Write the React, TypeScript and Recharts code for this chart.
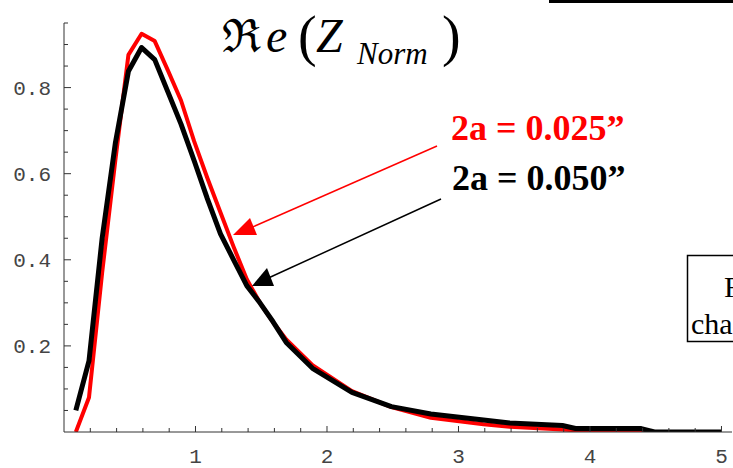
import { LineChart, Line, XAxis, YAxis } from 'recharts';

// sample positions (x) and Re(Z_norm)
const xs = [0.09, 0.19, 0.29, 0.39, 0.49, 0.59, 0.69, 0.79, 0.89, 0.99, 1.09, 1.19, 1.29, 1.39, 1.49, 1.59, 1.69, 1.89, 2.19, 2.49, 2.79, 3.19, 3.39, 3.79, 3.89, 4.19, 4.39, 4.49, 5.0];
const red025 = [0, 0.08, 0.37, 0.63, 0.876, 0.925, 0.908, 0.84, 0.77, 0.675, 0.59, 0.51, 0.43, 0.355, 0.3, 0.255, 0.215, 0.155, 0.095, 0.058, 0.033, 0.018, 0.012, 0.006, 0.004, 0, 0, 0, 0];
const black050 = [0.05, 0.165, 0.45, 0.67, 0.838, 0.893, 0.865, 0.79, 0.715, 0.63, 0.542, 0.46, 0.4, 0.34, 0.3, 0.256, 0.208, 0.148, 0.092, 0.059, 0.042, 0.028, 0.021, 0.015, 0.008, 0.008, 0.008, 0, 0];

const xTicks = [0.2, 0.4, 0.6, 0.8, 1, 1.2, 1.4, 1.6, 1.8, 2, 2.2, 2.4, 2.6, 2.8, 3, 3.2, 3.4, 3.6, 3.8, 4, 4.2, 4.4, 4.6, 4.8, 5];
const xLabels = [1, 2, 3, 4, 5];
const yTicks = [0.05, 0.1, 0.15, 0.2, 0.25, 0.3, 0.35, 0.4, 0.45, 0.5, 0.55, 0.6, 0.65, 0.7, 0.75, 0.8, 0.85, 0.9, 0.95];
const yLabels = [0.2, 0.4, 0.6, 0.8];

const data = xs.map((x, i) => ({ x, red: red025[i], black: black050[i] }));

const axisColor = '#333';
const labelColor = '#444';
const tickFont = '"Liberation Mono", monospace';

const isLabel = (v: number, list: number[]) => list.some((l) => Math.abs(l - v) < 1e-6);

const XTick = ({ x, y, payload }: any) => {
    const major = isLabel(payload.value, xLabels);
    return (
        <g>
            <line x1={x} x2={x} y1={y} y2={y - (major ? 6 : 4)} stroke={axisColor} strokeWidth={1} />
            {major && (
                <text x={x} y={y + 24} dy="0.35em" textAnchor="middle" fontFamily={tickFont} fontSize={21} fill={labelColor}>
                    {payload.value}
                </text>
            )}
        </g>
    );
};

const YTick = ({ x, y, payload }: any) => {
    const major = isLabel(payload.value, yLabels);
    return (
        <g>
            <line x1={x} x2={x + (major ? 7 : 4)} y1={y} y2={y} stroke={axisColor} strokeWidth={1} />
            {major && (
                <text x={x - 13} y={y} dy="0.35em" textAnchor="end" fontFamily={tickFont} fontSize={21} fill={labelColor}>
                    {payload.value}
                </text>
            )}
        </g>
    );
};

const serif = '"Liberation Serif", "Times New Roman", serif';

const App = () => {
    return (
        <div style={{ position: 'absolute', left: 0, top: 0, width: 733, height: 468, overflow: 'hidden', background: '#fff' }}>
            <LineChart width={733} height={468} data={data} margin={{ top: 23, right: 1, bottom: 0, left: 0 }}>
                <XAxis
                    dataKey="x"
                    type="number"
                    domain={[0, 5.08]}
                    ticks={xTicks}
                    interval={0}
                    height={36}
                    tickSize={0}
                    tickMargin={0}
                    tickLine={false}
                    tick={<XTick />}
                    stroke={axisColor}
                    allowDataOverflow
                />
                <YAxis
                    type="number"
                    domain={[0, 0.95]}
                    ticks={yTicks}
                    interval={0}
                    width={64}
                    tickSize={0}
                    tickMargin={0}
                    tickLine={false}
                    tick={<YTick />}
                    stroke={axisColor}
                    allowDataOverflow
                />
                <Line type="linear" dataKey="red" stroke="#ff0000" strokeWidth={4} dot={false} isAnimationActive={false} strokeLinejoin="round" />
                <Line type="linear" dataKey="black" stroke="#000000" strokeWidth={5} dot={false} isAnimationActive={false} strokeLinejoin="round" />
            </LineChart>
            <svg width={733} height={468} style={{ position: 'absolute', left: 0, top: 0, pointerEvents: 'none' }}>
                {/* title */}
                <text fontFamily={serif} fill="#000">
                    <tspan x={222} y={52} fontSize={46}>ℜ</tspan>
                    <tspan x={266} y={52} fontSize={48} fontStyle="italic">e</tspan>
                    <tspan x={298} y={55} fontSize={56}>(</tspan>
                    <tspan x={316} y={52} fontSize={48} fontStyle="italic">Z</tspan>
                    <tspan x={357} y={64} fontSize={31} fontStyle="italic">Norm</tspan>
                    <tspan x={442} y={55} fontSize={56}>)</tspan>
                </text>
                {/* legend labels */}
                <text x={451} y={140} fontFamily={serif} fontWeight="bold" fontSize={36} fill="#ff0000">2a = 0.025”</text>
                <text x={452} y={190} fontFamily={serif} fontWeight="bold" fontSize={36} fill="#000">2a = 0.050”</text>
                {/* arrows */}
                <line x1={437} y1={146} x2={248} y2={229} stroke="#ff0000" strokeWidth={1.5} />
                <polygon points="233,235 257,235 250,218" fill="#ff0000" />
                <line x1={441} y1={199} x2={264} y2={280} stroke="#000" strokeWidth={1.5} />
                <polygon points="252,286 274,286 267,268" fill="#000" />
                {/* cropped slide pieces */}
                <rect x={549} y={0} width={184} height={3} fill="#000" />
                <rect x={687.5} y={255.5} width={60} height={86} fill="none" stroke="#000" strokeWidth={1.5} />
                <text x={724} y={297} fontFamily={serif} fontSize={30} fill="#000">F</text>
                <text x={691} y={334} fontFamily={serif} fontSize={30} fill="#000">cha</text>
            </svg>
        </div>
    );
};

export default App;
